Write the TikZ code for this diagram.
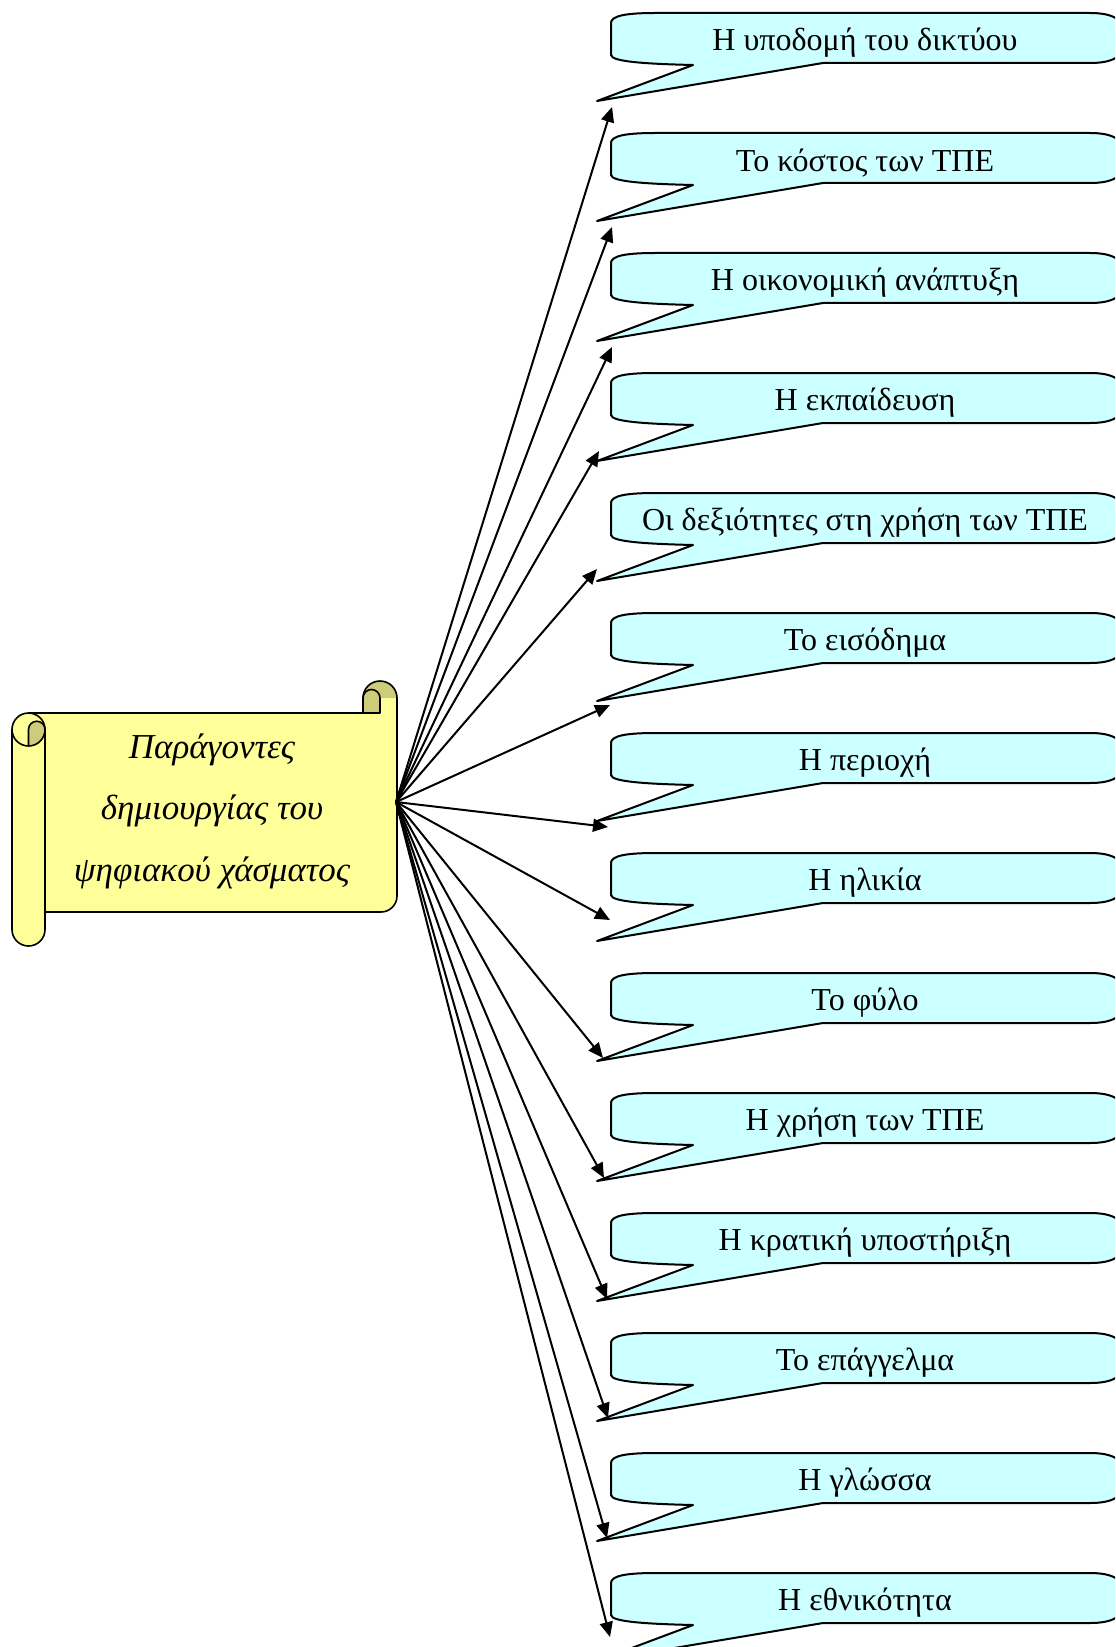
\documentclass[tikz,border=0pt]{standalone}
\usepackage{fontspec}
\setmainfont{Liberation Serif}
\usetikzlibrary{arrows.meta}

\definecolor{sheetyellow}{RGB}{255,255,153}
\definecolor{rolldark}{RGB}{204,204,122}
\definecolor{bubblecyan}{RGB}{204,255,255}

\tikzset{
  sheet/.style={fill=sheetyellow,draw=black,line width=0.8pt,line join=round},
  curl/.style={fill=rolldark,draw=black,line width=0.8pt,line join=round},
  bubble/.style={fill=bubblecyan,draw=black,line width=1pt,line join=round},
  bubbletext/.style={inner sep=0pt,font=\fontsize{16}{19}\selectfont},
  link/.style={line width=1pt,-{Triangle[length=7.5pt,width=6.5pt]}}
}

\begin{document}
\begin{tikzpicture}[x=0.5pt,y=-0.5pt]
\clip (0,0) rectangle (1115,1647);

% the scroll
\filldraw[curl] (380,698) circle[radius=17];
\fill[sheetyellow] (28.5,713) -- (363,713) -- (363,698) -- (397,698) -- (397,896)
  arc[start angle=0,end angle=90,radius=16] -- (28.5,912) -- cycle;
\draw[line width=0.8pt] (28.5,713) -- (363,713) -- (363,698);
\draw[curl] (363,698) arc[start angle=180,end angle=360,radius=8.5] -- (380,713) -- (363,713) -- cycle;
\draw[line width=0.8pt] (397,698) -- (397,896) arc[start angle=0,end angle=90,radius=16] -- (45,912);
\filldraw[sheet] (12,729.5) -- (12,929.5) arc[start angle=180,end angle=0,radius=16.5]
  -- (45,729.5) arc[start angle=0,end angle=-180,radius=16.5] -- cycle;
\filldraw[curl] (28.5,746) -- (28.5,729.5) arc[start angle=180,end angle=360,radius=8.25]
  arc[start angle=0,end angle=90,radius=16.5] -- cycle;
\draw[line width=0.8pt] (12,729.5) arc[start angle=180,end angle=90,radius=16.5];
\node[align=center,font=\fontsize{17.5}{30.75}\selectfont\itshape] (title) at (212,811)
  {Παράγοντες\\δημιουργίας του\\ψηφιακού χάσματος};
\coordinate (hub) at (396,802);

% the callouts
\foreach \i/\txt/\ax/\ay in {
  1/{Η υποδομή του δικτύου}/612/107,
  2/{Το κόστος των ΤΠΕ}/612/227,
  3/{Η οικονομική ανάπτυξη}/612/347,
  4/{Η εκπαίδευση}/599/451,
  5/{Οι δεξιότητες στη χρήση των ΤΠΕ}/597/569,
  6/{Το εισόδημα}/610/705,
  7/{Η περιοχή}/608/827,
  8/{Η ηλικία}/610/920,
  9/{Το φύλο}/603/1058,
  10/{Η χρήση των ΤΠΕ}/604/1178,
  11/{Η κρατική υποστήριξη}/607/1299,
  12/{Το επάγγελμα}/608/1418,
  13/{Η γλώσσα}/607/1538,
  14/{Η εθνικότητα}/610/1637}{
  \pgfmathsetmacro\t{13+120*(\i-1)}
  \filldraw[bubble] (611,\t+10) .. controls (611,\t+3) and (625,\t) .. (655,\t)
    -- (1090,\t) .. controls (1112,\t) and (1126,\t+6) .. (1126,\t+25)
    .. controls (1126,\t+44) and (1112,\t+50) .. (1090,\t+50)
    -- (823,\t+50) -- (597,\t+88) -- (693,\t+52)
    .. controls (650,\t+51) and (611,\t+49) .. (611,\t+42) -- cycle;
  \node[bubbletext] (b\i) at (865,\t+30) {\txt};
  \coordinate (e\i) at (\ax,\ay);
}

% the arrows
\foreach \i in {1,...,14}
  \draw[link] (hub) -- (e\i);
\end{tikzpicture}
\end{document}
